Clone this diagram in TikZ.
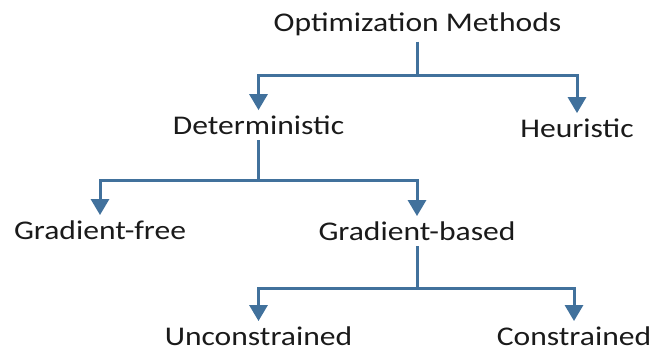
\documentclass[tikz,border=0pt]{standalone}
\usepackage{fontspec}
\setmainfont{Carlito}[FakeStretch=1.17]
\usetikzlibrary{arrows.meta}
\definecolor{linkblue}{HTML}{41719C}
\definecolor{txt}{HTML}{1A1A1A}
\tikzset{
  label/.style={anchor=base, inner xsep=0pt, inner ysep=1pt, text=txt, font=\fontsize{27}{32}\selectfont},
  conn/.style={draw=linkblue, line width=3pt},
  arr/.style={conn, shorten >=4pt, -{Triangle[width=18pt,length=16pt]}},
}
\begin{document}
\begin{tikzpicture}[x=1pt,y=-1pt]
\useasboundingbox (0,0) rectangle (655,353);
\node[label] (opt) at (417.5,32) {Optimization Methods};
\node[label] (det) at (258.5,134) {Deterministic};
\node[label] (heu) at (577,137) {Heuristic};
\node[label] (gf) at (100,239) {Gradient-free};
\node[label] (gb) at (417,240) {Gradient-based};
\node[label] (unc) at (258.5,345) {Unconstrained};
\node[label] (con) at (574,345) {Constrained};
\coordinate (j1) at (417.5,75);
\coordinate (j2) at (258.5,180);
\coordinate (j3) at (417,288);
\draw[conn] (opt.south) ++(0,4) -- (j1);
\draw[arr] (j1) -| (det.north);
\draw[arr] (j1) -| (heu.north);
\draw[conn] (det.south) ++(0,5) -- (j2);
\draw[arr] (j2) -| (gf.north);
\draw[arr] (j2) -| (gb.north);
\draw[conn] (gb.south) ++(0,5) -- (j3);
\draw[arr] (j3) -| (unc.north);
\draw[arr] (j3) -| (con.north);
\end{tikzpicture}
\end{document}
